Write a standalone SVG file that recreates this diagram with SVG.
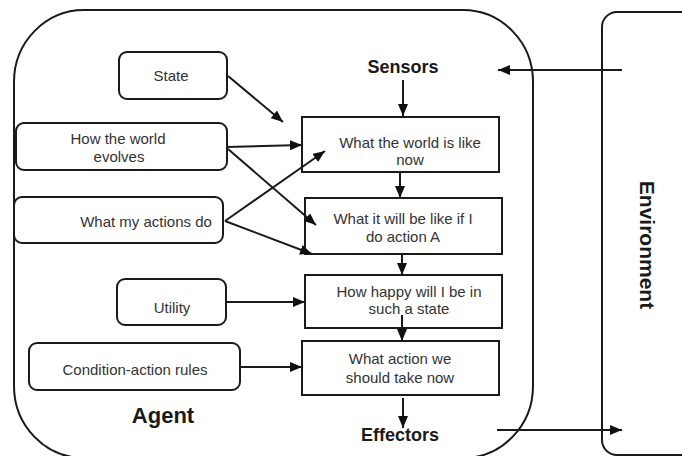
<svg xmlns="http://www.w3.org/2000/svg" width="682" height="456" viewBox="0 0 682 456">
<defs>
<marker id="ah" viewBox="0 0 12 10" refX="12" refY="5" markerWidth="12" markerHeight="10" markerUnits="userSpaceOnUse" orient="auto">
<path d="M0,0 L12,5 L0,10 Z" fill="#111"/>
</marker>
</defs>
<style>
.box{fill:#fff;stroke:#1a1a1a;stroke-width:2}
.t{font-family:"Liberation Sans",Arial,sans-serif;font-size:15px;fill:#333;text-anchor:middle}
.b{font-family:"Liberation Sans",Arial,sans-serif;font-weight:bold;fill:#1a1a1a;text-anchor:middle}
.c{fill:none;stroke:#1a1a1a;stroke-width:2;marker-end:url(#ah)}
</style>
<rect width="682" height="456" fill="#fff"/>
<g id="agent">
<rect x="14" y="10" width="519" height="448" rx="70" ry="72" fill="none" stroke="#1a1a1a" stroke-width="2"/>
<text class="b" x="163" y="423" font-size="22">Agent</text>
</g>
<g id="environment">
<rect x="602" y="12" width="120" height="443" rx="15" fill="none" stroke="#1a1a1a" stroke-width="2"/>
<text class="b" font-size="21" transform="translate(640,245) rotate(90)">Environment</text>
</g>
<g id="sensors"><text class="b" x="403" y="73" font-size="18">Sensors</text></g>
<g id="effectors"><text class="b" x="400" y="441" font-size="18">Effectors</text></g>
<g id="state"><rect class="box" x="119" y="52" width="108" height="47" rx="8"/><text class="t" x="171" y="81">State</text></g>
<g id="world-evolves"><rect class="box" x="16" y="123" width="211" height="47" rx="8"/><text class="t" x="118" y="144">How the world</text><text class="t" x="119" y="162">evolves</text></g>
<g id="actions-do"><rect class="box" x="14" y="197" width="209" height="46" rx="8"/><text class="t" x="146" y="227">What my actions do</text></g>
<g id="utility"><rect class="box" x="117" y="279" width="109" height="46" rx="8"/><text class="t" x="172" y="313">Utility</text></g>
<g id="rules"><rect class="box" x="29" y="343" width="211" height="47" rx="8"/><text class="t" x="135" y="375">Condition-action rules</text></g>
<g id="world-now"><rect class="box" x="302" y="117" width="197" height="55"/><text class="t" x="410" y="148">What the world is like</text><text class="t" x="410" y="165">now</text></g>
<g id="action-a"><rect class="box" x="305" y="198" width="197" height="56"/><text class="t" x="403" y="224">What it will be like if I</text><text class="t" x="403" y="242">do action A</text></g>
<g id="happy"><rect class="box" x="305" y="275" width="197" height="53"/><text class="t" x="409" y="297">How happy will I be in</text><text class="t" x="409" y="314">such a state</text></g>
<g id="take-now"><rect class="box" x="302" y="341" width="197" height="54"/><text class="t" x="400" y="364">What action we</text><text class="t" x="400" y="383">should take now</text></g>
<g id="connectors">
<line class="c" x1="622" y1="70" x2="498" y2="70"/>
<line class="c" x1="497" y1="430" x2="622" y2="430"/>
<line class="c" x1="403" y1="80" x2="403" y2="116"/>
<line class="c" x1="400" y1="172" x2="400" y2="198"/>
<line class="c" x1="402" y1="254" x2="402" y2="275"/>
<line class="c" x1="402" y1="315" x2="402" y2="341"/>
<line class="c" x1="403" y1="398" x2="403" y2="428"/>
<line class="c" x1="228" y1="76" x2="283" y2="122"/>
<line class="c" x1="227" y1="147" x2="302" y2="145"/>
<line class="c" x1="228" y1="149" x2="316" y2="225"/>
<line class="c" x1="225" y1="221" x2="325" y2="151"/>
<line class="c" x1="225" y1="221" x2="312" y2="254"/>
<line class="c" x1="226" y1="302" x2="305" y2="302"/>
<line class="c" x1="240" y1="367" x2="302" y2="367"/>
</g>
</svg>
